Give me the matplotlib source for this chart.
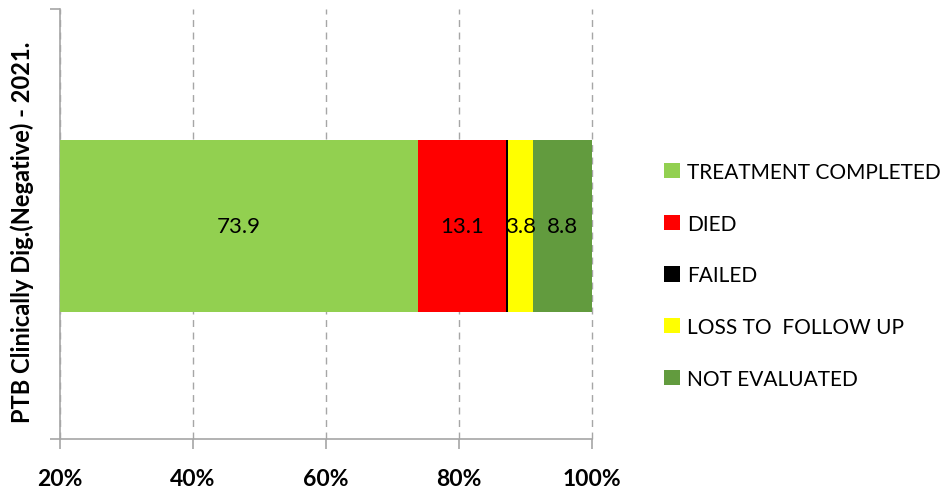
import matplotlib
matplotlib.use("Agg")
import matplotlib.pyplot as plt
from matplotlib.patches import Patch

plt.rcParams["font.family"] = ["Lato", "DejaVu Sans"]

CATEGORY = "PTB Clinically Dig.(Negative) - 2021."
OUTCOMES = ["TREATMENT COMPLETED", "DIED", "FAILED", "LOSS TO  FOLLOW UP", "NOT EVALUATED"]
VALUES = [73.9, 13.1, 0.4, 3.8, 8.8]
SHOW_LABEL = [True, True, False, True, True]
COLORS = ["#92d050", "#ff0000", "#000000", "#ffff00", "#629b3e"]
XTICKS = [20, 40, 60, 80, 100]
XMIN, XMAX = 20, 100

fig = plt.figure(figsize=(9.43, 4.89), dpi=100)
ax = fig.add_axes([60 / 943, 1 - 440 / 489, 532 / 943, 430 / 489])

left = 0.0
for name, val, col, show in zip(OUTCOMES, VALUES, COLORS, SHOW_LABEL):
    ax.barh(-0.01, val, left=left, height=0.8, color=col, label=name, zorder=3)
    if show:
        a, b = max(left, XMIN), min(left + val, XMAX)
        ax.text((a + b) / 2, -0.01, f"{val:.1f}", ha="center", va="center",
                fontsize=16, color="black", zorder=4)
    left += val

ax.set_xlim(XMIN, XMAX)
ax.set_ylim(-1, 1)
ax.set_xticks(XTICKS)
ax.set_xticklabels([f"{t}%" for t in XTICKS], fontweight="bold", fontsize=16.5)
ax.set_yticks([-1, 1])
ax.set_yticklabels([])
ax.tick_params(axis="both", colors="#a6a6a6", length=7, width=1.2, labelcolor="black")
ax.tick_params(axis="x", pad=14)
ax.xaxis.grid(True, linestyle=(0, (5, 4)), color="#a6a6a6", linewidth=1, zorder=0)
for line in ax.get_xgridlines():
    line.set_clip_on(False)
for s in ["top", "right"]:
    ax.spines[s].set_visible(False)
for s in ["left", "bottom"]:
    ax.spines[s].set_color("#a6a6a6")
    ax.spines[s].set_linewidth(1.2)

ax.set_ylabel(CATEGORY, fontsize=17, fontweight="bold")
ax.yaxis.set_label_coords(-26 / 532, 208 / 430)

handles = [Patch(facecolor=c, edgecolor="none") for c in COLORS]
fig.legend(handles, OUTCOMES, loc="upper left", bbox_to_anchor=(664 / 943, 1 - 163 / 489),
           frameon=False, fontsize=15, handlelength=0.75, handleheight=0.75,
           handletextpad=0.35, labelspacing=1.52, borderpad=0, borderaxespad=0)

fig.savefig("out.png", dpi=100)
